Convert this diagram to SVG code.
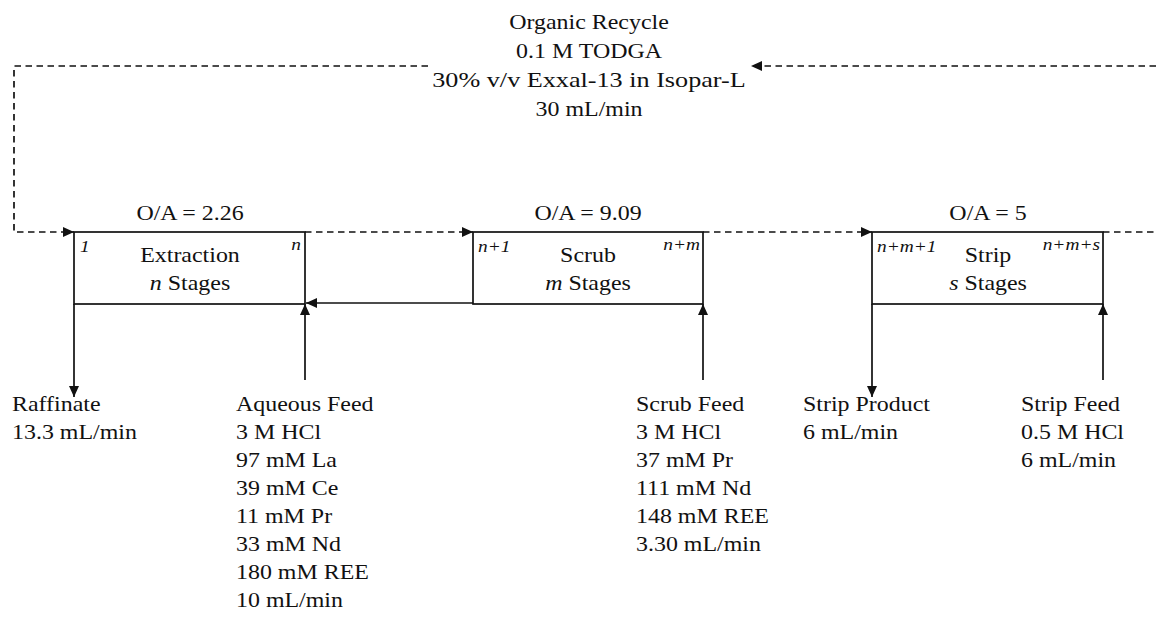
<svg xmlns="http://www.w3.org/2000/svg" width="1156" height="617" viewBox="0 0 1156 617">
<style>
text{font-family:"Liberation Serif","Times New Roman",serif;font-size:21px;fill:#111}
.s{font-size:17px;font-style:italic}
.i{font-style:italic}
.box{fill:none;stroke:#111;stroke-width:1.7}
.ln{fill:none;stroke:#111;stroke-width:1.7}
.d{stroke-dasharray:6.5 4.5}
</style>
<defs>
<marker id="ah" markerUnits="userSpaceOnUse" markerWidth="11" markerHeight="11" refX="11" refY="5.5" orient="auto" viewBox="0 0 11 11">
<path d="M0,0.5 L11,5.5 L0,10.5 z" fill="#111"/>
</marker>
</defs>
<rect width="1156" height="617" fill="#fff"/>

<g id="recycle-label">
<text text-anchor="middle" transform="translate(589,0) scale(1.14,1)"><tspan x="0" y="29">Organic Recycle</tspan><tspan x="0" y="58">0.1 M TODGA</tspan><tspan x="0" y="87" textLength="275" lengthAdjust="spacingAndGlyphs">30% v/v Exxal-13 in Isopar-L</tspan><tspan x="0" y="116">30 mL/min</tspan></text>
</g>

<g id="connectors">
<path class="ln d" d="M1156,66 H751" marker-end="url(#ah)"/>
<path class="ln d" d="M428,66 H14 V232 H74" marker-end="url(#ah)"/>
<path class="ln d" d="M305,232 H473" marker-end="url(#ah)"/>
<path class="ln d" d="M703,232 H872" marker-end="url(#ah)"/>
<path class="ln d" d="M1103,232 H1156"/>
<path class="ln" d="M473,303 H306" marker-end="url(#ah)"/>
<path class="ln" d="M74,304 V397" marker-end="url(#ah)"/>
<path class="ln" d="M305,380 V304" marker-end="url(#ah)"/>
<path class="ln" d="M703,380 V304" marker-end="url(#ah)"/>
<path class="ln" d="M872,304 V397" marker-end="url(#ah)"/>
<path class="ln" d="M1103,380 V304" marker-end="url(#ah)"/>
</g>

<g id="extraction">
<rect class="box" x="74" y="232" width="231" height="72"/>
<text text-anchor="middle" transform="translate(190,220) scale(1.14,1)">O/A = 2.26</text>
<text class="s" transform="translate(80,252) scale(1.14,1)">1</text>
<text class="s" text-anchor="end" transform="translate(301,250) scale(1.14,1)">n</text>
<text text-anchor="middle" transform="translate(190,0) scale(1.14,1)"><tspan x="0" y="262">Extraction</tspan><tspan x="0" y="290"><tspan class="i">n</tspan> Stages</tspan></text>
</g>

<g id="scrub">
<rect class="box" x="473" y="232" width="230" height="72"/>
<text text-anchor="middle" transform="translate(588,220) scale(1.14,1)">O/A = 9.09</text>
<text class="s" transform="translate(478,252) scale(1.14,1)">n+1</text>
<text class="s" text-anchor="end" transform="translate(700,250) scale(1.14,1)">n+m</text>
<text text-anchor="middle" transform="translate(588,0) scale(1.14,1)"><tspan x="0" y="262">Scrub</tspan><tspan x="0" y="290"><tspan class="i">m</tspan> Stages</tspan></text>
</g>

<g id="strip">
<rect class="box" x="872" y="232" width="231" height="72"/>
<text text-anchor="middle" transform="translate(988,220) scale(1.14,1)">O/A = 5</text>
<text class="s" transform="translate(877,252) scale(1.14,1)">n+m+1</text>
<text class="s" text-anchor="end" transform="translate(1100,250) scale(1.14,1)">n+m+s</text>
<text text-anchor="middle" transform="translate(988,0) scale(1.14,1)"><tspan x="0" y="262">Strip</tspan><tspan x="0" y="290"><tspan class="i">s</tspan> Stages</tspan></text>
</g>

<g id="raffinate">
<text transform="translate(12,0) scale(1.14,1)"><tspan x="0" y="411">Raffinate</tspan><tspan x="0" y="439">13.3 mL/min</tspan></text>
</g>

<g id="aqueous-feed">
<text transform="translate(236,0) scale(1.14,1)"><tspan x="0" y="411">Aqueous Feed</tspan><tspan x="0" y="439">3 M HCl</tspan><tspan x="0" y="467">97 mM La</tspan><tspan x="0" y="495">39 mM Ce</tspan><tspan x="0" y="523">11 mM Pr</tspan><tspan x="0" y="551">33 mM Nd</tspan><tspan x="0" y="579">180 mM REE</tspan><tspan x="0" y="607">10 mL/min</tspan></text>
</g>

<g id="scrub-feed">
<text transform="translate(636,0) scale(1.14,1)"><tspan x="0" y="411">Scrub Feed</tspan><tspan x="0" y="439">3 M HCl</tspan><tspan x="0" y="467">37 mM Pr</tspan><tspan x="0" y="495">111 mM Nd</tspan><tspan x="0" y="523">148 mM REE</tspan><tspan x="0" y="551">3.30 mL/min</tspan></text>
</g>

<g id="strip-product">
<text transform="translate(803,0) scale(1.14,1)"><tspan x="0" y="411">Strip Product</tspan><tspan x="0" y="439">6 mL/min</tspan></text>
</g>

<g id="strip-feed">
<text transform="translate(1021,0) scale(1.14,1)"><tspan x="0" y="411">Strip Feed</tspan><tspan x="0" y="439">0.5 M HCl</tspan><tspan x="0" y="467">6 mL/min</tspan></text>
</g>
</svg>
